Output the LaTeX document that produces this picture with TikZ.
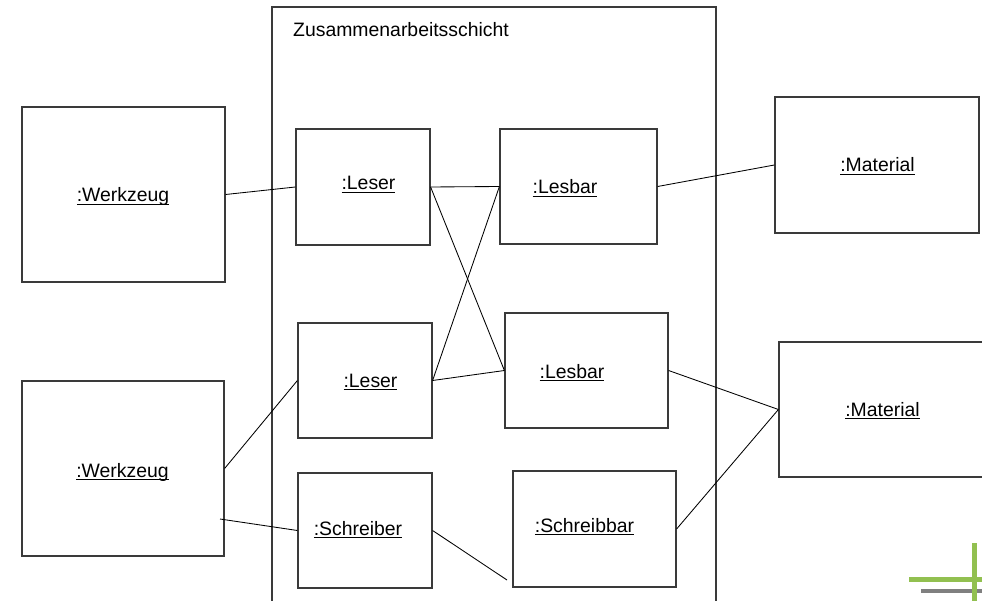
\documentclass[tikz,border=0pt]{standalone}
\usepackage{fontspec}
\setmainfont{Liberation Sans}
\usetikzlibrary{calc}
\definecolor{boxgray}{HTML}{3A3A3A}
\definecolor{logogreen}{HTML}{92C050}
\definecolor{logogray}{HTML}{808080}
% underline that sits just below the baseline and crosses descenders
\newcommand\ulabel[1]{\setbox0\hbox{#1}\rlap{\vrule height -2pt depth 3.3pt width \wd0}\box0}

\begin{document}
\begin{tikzpicture}[x=1pt,y=-1pt,
  obj/.style={draw=boxgray, line width=1.2pt, inner sep=0pt, rectangle},
  lbl/.style={inner sep=0pt, anchor=base, font=\fontsize{19.4}{23}\selectfont},
  link/.style={draw=black, line width=0.85pt}]
\useasboundingbox (0,0) rectangle (982,601);
\clip (0,0) rectangle (982,601);

% collaboration layer
\node[obj, minimum width=444pt, minimum height=610pt] (layer) at (494,312) {};
\node[lbl, anchor=base west] (title) at (293,37) {Zusammenarbeitsschicht};

% tools
\node[obj, minimum width=203pt, minimum height=175pt] (W1) at (123.5,194.5) {};
\node[obj, minimum width=202pt, minimum height=175pt] (W2) at (123,468.5) {};

% readers / writers
\node[obj, minimum width=134pt, minimum height=116pt] (L1) at (363,187) {};
\node[obj, minimum width=134pt, minimum height=115pt] (L2) at (365,380.5) {};
\node[obj, minimum width=134pt, minimum height=115pt] (S)  at (365,530.5) {};

% readable / writable
\node[obj, minimum width=157pt, minimum height=115pt] (B1) at (578.5,186.5) {};
\node[obj, minimum width=163pt, minimum height=115pt] (B2) at (586.5,370.5) {};
\node[obj, minimum width=163pt, minimum height=116pt] (SB) at (594.5,529) {};

% materials
\node[obj, minimum width=204pt, minimum height=136pt] (M1) at (877,165) {};
\node[obj, minimum width=220pt, minimum height=135pt] (M2) at (889,409.5) {};

% labels
\node[lbl] (tW1) at (123,202) {\ulabel{:Werkzeug}};
\node[lbl] (tW2) at (122.5,477) {\ulabel{:Werkzeug}};
\node[lbl] (tL1) at (368.5,190) {\ulabel{:Leser}};
\node[lbl] (tL2) at (370.5,387) {\ulabel{:Leser}};
\node[lbl] (tS)  at (358,535) {\ulabel{:Schreiber}};
\node[lbl] (tB1) at (565,194) {\ulabel{:Lesbar}};
\node[lbl] (tB2) at (572,378) {\ulabel{:Lesbar}};
\node[lbl] (tSB) at (584.5,532) {\ulabel{:Schreibbar}};
\node[lbl] (tM1) at (877.5,172) {\ulabel{:Material}};
\node[lbl] (tM2) at (882.5,416) {\ulabel{:Material}};

% free connector ends
\coordinate (w2in) at (220,519);
\coordinate (sbend) at (507,580);

% connectors
\draw[link] (W1.east) -- (L1.west);
\draw[link] (L1.east) -- (B1.west);
\draw[link] (L1.east) -- (B2.west);
\draw[link] (B1.west) -- (L2.east);
\draw[link] (L2.east) -- (B2.west);
\draw[link] (B1.east) -- (M1.west);
\draw[link] (B2.east) -- (M2.west);
\draw[link] (SB.east) -- (M2.west);
\draw[link] (W2.east) -- (L2.west);
\draw[link] (w2in) -- (S.west);
\draw[link] (S.east) -- (sbend);

% corner logo
\fill[logogray]  (921,589) rectangle (982,593);
\fill[logogreen] (909,577) rectangle (982,582);
\fill[logogreen] (972,543) rectangle (977,601);
\end{tikzpicture}
\end{document}
